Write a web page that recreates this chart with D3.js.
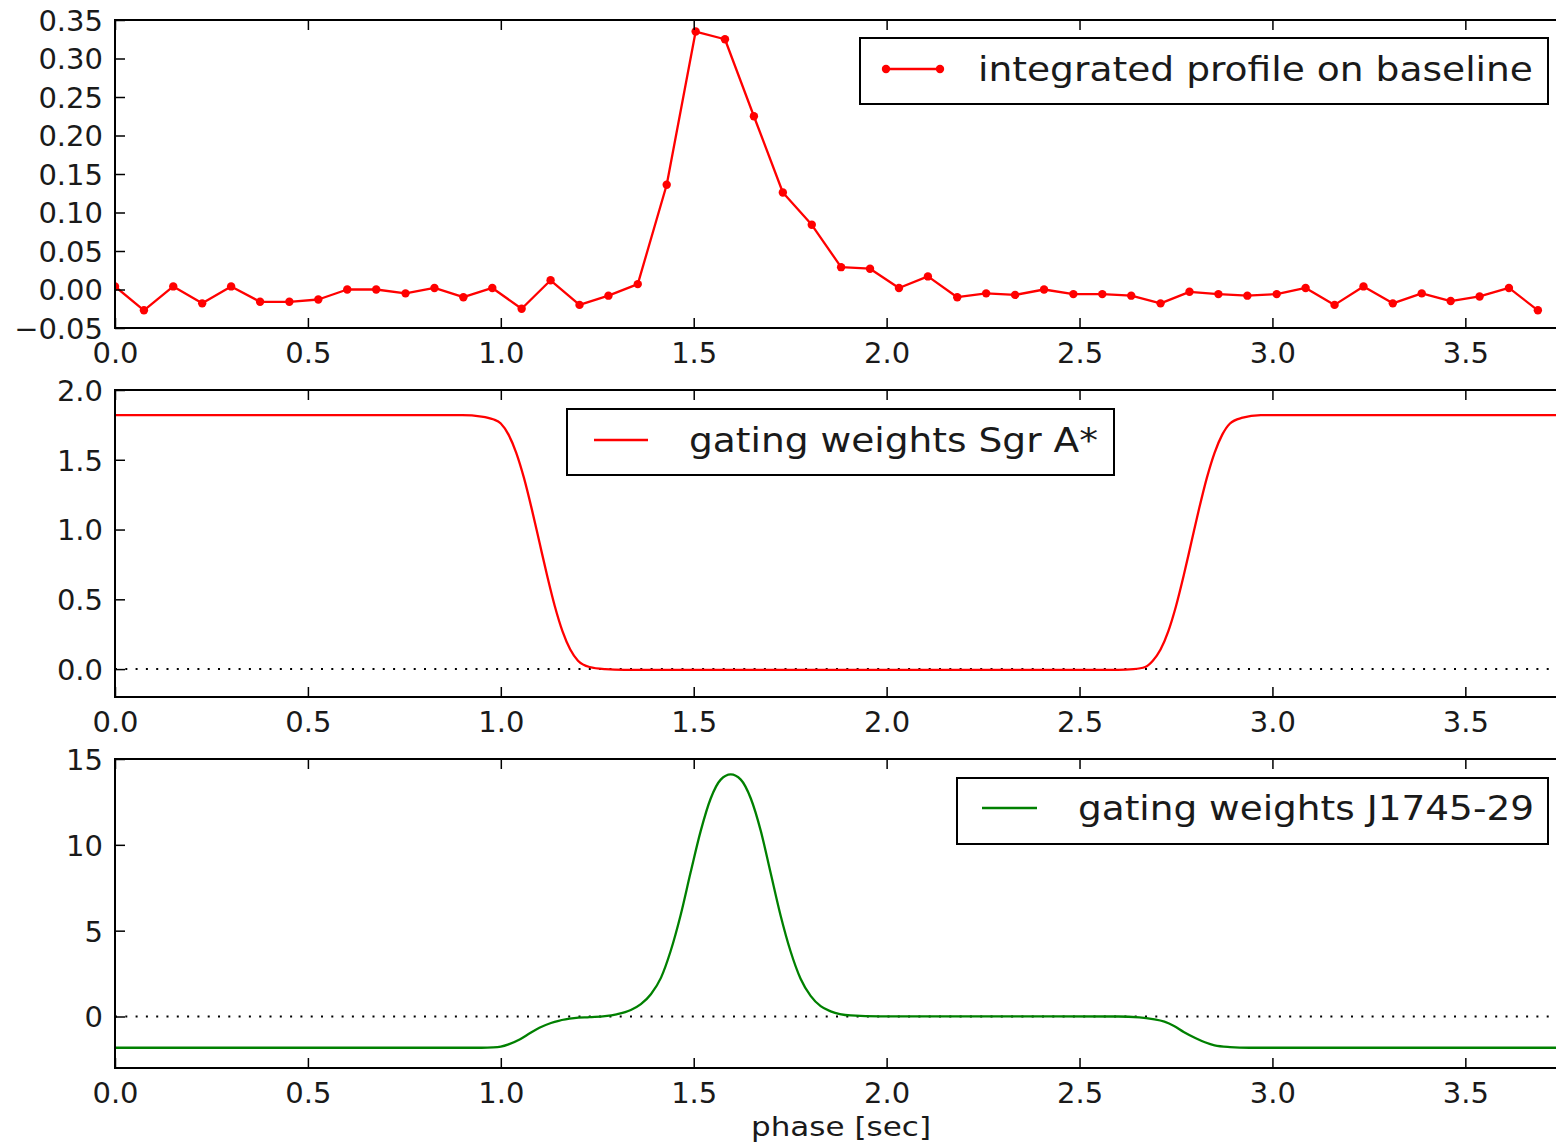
<!DOCTYPE html>
<html>
<head>
<meta charset="utf-8">
<script src="https://cdn.jsdelivr.net/npm/d3@7"></script>
<style>
  html, body { margin: 0; padding: 0; background: #fff; overflow: hidden; }
  svg { display: block; }
  text { font-family: "DejaVu Sans", sans-serif; fill: #1a1a1a; }
</style>
</head>
<body>
<svg id="chart" width="1600" height="1143"></svg>
<script>
// ---------------- DATA ----------------
const period = 3.7635;
const xTicks = [0.0, 0.5, 1.0, 1.5, 2.0, 2.5, 3.0, 3.5];

// panel 1: integrated profile on baseline (50 phase bins)
const profilePhase = [0.000, 0.075, 0.151, 0.226, 0.301, 0.376, 0.452, 0.527, 0.602, 0.677,
  0.753, 0.828, 0.903, 0.978, 1.054, 1.129, 1.204, 1.279, 1.355, 1.430,
  1.505, 1.581, 1.656, 1.731, 1.806, 1.882, 1.957, 2.032, 2.107, 2.183,
  2.258, 2.333, 2.408, 2.484, 2.559, 2.634, 2.710, 2.785, 2.860, 2.935,
  3.011, 3.086, 3.161, 3.236, 3.312, 3.387, 3.462, 3.537, 3.613, 3.688];
const profileValue = [0.004, -0.027, 0.004, -0.018, 0.004, -0.016, -0.016, -0.013, 0.000, 0.000,
  -0.005, 0.002, -0.010, 0.002, -0.025, 0.012, -0.020, -0.008, 0.007, 0.136,
  0.335, 0.325, 0.225, 0.126, 0.084, 0.029, 0.027, 0.002, 0.017, -0.010,
  -0.005, -0.007, 0.000, -0.006, -0.006, -0.008, -0.018, -0.003, -0.006, -0.008,
  -0.006, 0.002, -0.020, 0.004, -0.018, -0.005, -0.015, -0.009, 0.002, -0.027];
const profileTicks = [-0.05, 0.00, 0.05, 0.10, 0.15, 0.20, 0.25, 0.30, 0.35];

// panel 2: gating weights Sgr A*
const sgrPhase = [0.00, 0.90, 0.95, 0.98, 1.00, 1.02, 1.04, 1.06, 1.08, 1.10, 1.12, 1.14, 1.16, 1.18, 1.20, 1.23, 1.27, 1.32,
  2.60, 2.64, 2.67, 2.69, 2.71, 2.73, 2.75, 2.77, 2.79, 2.81, 2.83, 2.85, 2.87, 2.89, 2.92, 2.97, 3.7635];
const sgrValue = [1.82, 1.82, 1.81, 1.79, 1.76, 1.68, 1.55, 1.37, 1.15, 0.91, 0.67, 0.45, 0.27, 0.14, 0.06, 0.015, 0.0, -0.005,
  -0.005, 0.0, 0.015, 0.06, 0.14, 0.27, 0.45, 0.67, 0.91, 1.15, 1.37, 1.55, 1.68, 1.76, 1.80, 1.82, 1.82];
const sgrTicks = [0.0, 0.5, 1.0, 1.5, 2.0];

// panel 3: gating weights J1745-29
const psrPhase = [0.00, 0.95, 0.98, 1.00, 1.02, 1.05, 1.075, 1.10, 1.13, 1.15, 1.19, 1.23, 1.27, 1.30,
  1.337, 1.363, 1.389, 1.415, 1.440, 1.466, 1.492, 1.518, 1.544, 1.570, 1.596,
  1.622, 1.648, 1.674, 1.699, 1.725, 1.751, 1.777, 1.803, 1.829, 1.855, 1.907, 1.984,
  2.60, 2.655, 2.69, 2.72, 2.745, 2.77, 2.80, 2.825, 2.85, 2.89, 2.94, 3.7635];
const psrValue = [-1.82, -1.82, -1.80, -1.75, -1.62, -1.32, -0.98, -0.66, -0.38, -0.25, -0.10, -0.04, 0.02, 0.13,
  0.38, 0.72, 1.30, 2.25, 3.80, 5.90, 8.40, 10.8, 12.7, 13.8, 14.1,
  13.8, 12.7, 10.8, 8.40, 5.9, 3.80, 2.2, 1.2, 0.60, 0.30, 0.06, 0.01,
  0.0, -0.05, -0.15, -0.30, -0.55, -0.90, -1.25, -1.50, -1.68, -1.78, -1.82, -1.82];
const psrTicks = [0, 5, 10, 15];

const legendLabels = ["integrated profile on baseline", "gating weights Sgr A*", "gating weights J1745-29"];
const xLabel = "phase [sec]";

// ---------------- DRAW ----------------
const svg = d3.select("#chart");
const left = 115, right = 1567;
const x = d3.scaleLinear().domain([0, period]).range([left, right]);

const panels = [
  { top: 20, bottom: 328, domain: [-0.05, 0.35], ticks: profileTicks, fmt: d3.format(".2f"),
    xs: profilePhase, ys: profileValue, color: "#ff0000", markers: true, zeroLine: false,
    curve: d3.curveLinear,
    legend: { x0: 860, y0: 38, x1: 1548, y1: 104, lx0: 886, lx1: 940, ly: 69, tx: 978, tlen: 555, label: legendLabels[0] } },
  { top: 390, bottom: 697, domain: [-0.2, 2.0], ticks: sgrTicks, fmt: d3.format(".1f"),
    xs: sgrPhase, ys: sgrValue, color: "#ff0000", markers: false, zeroLine: true,
    curve: d3.curveMonotoneX,
    legend: { x0: 567, y0: 409, x1: 1114, y1: 475, lx0: 594, lx1: 648, ly: 440, tx: 689, tlen: 409, label: legendLabels[1] } },
  { top: 759, bottom: 1068, domain: [-3, 15], ticks: psrTicks, fmt: d3.format("d"),
    xs: psrPhase, ys: psrValue, color: "#008000", markers: false, zeroLine: true,
    curve: d3.curveMonotoneX,
    legend: { x0: 957, y0: 778, x1: 1548, y1: 844, lx0: 982, lx1: 1037, ly: 808, tx: 1078, tlen: 456, label: legendLabels[2] } }
];

const minus = s => s.replace("-", "\u2212");
const tickLen = 10;

panels.forEach((p, idx) => {
  const y = d3.scaleLinear().domain(p.domain).range([p.bottom, p.top]);
  const g = svg.append("g");
  const clipId = "clip" + idx;
  svg.append("clipPath").attr("id", clipId).append("rect")
    .attr("x", left).attr("y", p.top).attr("width", right - left).attr("height", p.bottom - p.top);

  const plot = g.append("g").attr("clip-path", `url(#${clipId})`);

  if (p.zeroLine) {
    plot.append("line")
      .attr("x1", left).attr("x2", right).attr("y1", y(0)).attr("y2", y(0))
      .attr("stroke", "#000").attr("stroke-width", 2).attr("stroke-dasharray", "2,8.3");
  }

  const data = p.xs.map((d, i) => [d, p.ys[i]]);
  const line = d3.line().x(d => x(d[0])).y(d => y(d[1])).curve(p.curve);
  plot.append("path").datum(data).attr("d", line)
    .attr("fill", "none").attr("stroke", p.color).attr("stroke-width", 2.3).attr("stroke-linejoin", "round");

  if (p.markers) {
    plot.selectAll("circle.m").data(data).enter().append("circle")
      .attr("cx", d => x(d[0])).attr("cy", d => y(d[1])).attr("r", 4.2).attr("fill", p.color);
  }

  // axes: bottom with labels, top/left/right ticks inward
  const axB = d3.axisBottom(x).tickValues(xTicks).tickFormat(d3.format(".1f")).tickSizeInner(-tickLen).tickSizeOuter(0).tickPadding(14);
  const gb = g.append("g").attr("transform", `translate(0,${p.bottom})`).call(axB);
  const axT = d3.axisTop(x).tickValues(xTicks).tickFormat("").tickSizeInner(-tickLen).tickSizeOuter(0);
  const gt = g.append("g").attr("transform", `translate(0,${p.top})`).call(axT);
  const axL = d3.axisLeft(y).tickValues(p.ticks).tickFormat(d => minus(p.fmt(d))).tickSizeInner(-tickLen).tickSizeOuter(0).tickPadding(12);
  const gl = g.append("g").attr("transform", `translate(${left},0)`).call(axL);
  const axR = d3.axisRight(y).tickValues(p.ticks).tickFormat("").tickSizeInner(-tickLen).tickSizeOuter(0);
  const gr = g.append("g").attr("transform", `translate(${right},0)`).call(axR);

  [gb, gt, gl, gr].forEach(a => {
    a.select(".domain").remove();
    a.selectAll(".tick line").attr("stroke", "#000").attr("stroke-width", 1.5);
    a.selectAll("text").style("font-family", '"DejaVu Sans", sans-serif').style("font-size", "29px").attr("fill", "#1a1a1a");
  });
  gl.selectAll("text").attr("dy", "0.36em");
  gb.selectAll("text").attr("dy", "0.72em");

  // frame
  g.append("rect").attr("x", left).attr("y", p.top).attr("width", right - left).attr("height", p.bottom - p.top)
    .attr("fill", "none").attr("stroke", "#000").attr("stroke-width", 2);

  // legend
  const L = p.legend;
  const lg = g.append("g");
  lg.append("rect").attr("x", L.x0).attr("y", L.y0).attr("width", L.x1 - L.x0).attr("height", L.y1 - L.y0)
    .attr("fill", "#fff").attr("stroke", "#000").attr("stroke-width", 2);
  lg.append("line").attr("x1", L.lx0).attr("x2", L.lx1).attr("y1", L.ly).attr("y2", L.ly)
    .attr("stroke", p.color).attr("stroke-width", 2.3);
  if (p.markers) {
    lg.selectAll("circle").data([L.lx0, L.lx1]).enter().append("circle")
      .attr("cx", d => d).attr("cy", L.ly).attr("r", 4.2).attr("fill", p.color);
  }
  lg.append("text").attr("x", L.tx).attr("y", L.ly + 12)
    .attr("textLength", L.tlen).attr("lengthAdjust", "spacingAndGlyphs")
    .style("font-size", "33px").text(L.label);
});

svg.append("text").attr("x", (left + right) / 2).attr("y", 1136).attr("text-anchor", "middle")
  .attr("textLength", 180).attr("lengthAdjust", "spacingAndGlyphs")
  .style("font-size", "27px").text(xLabel);
</script>
</body>
</html>
